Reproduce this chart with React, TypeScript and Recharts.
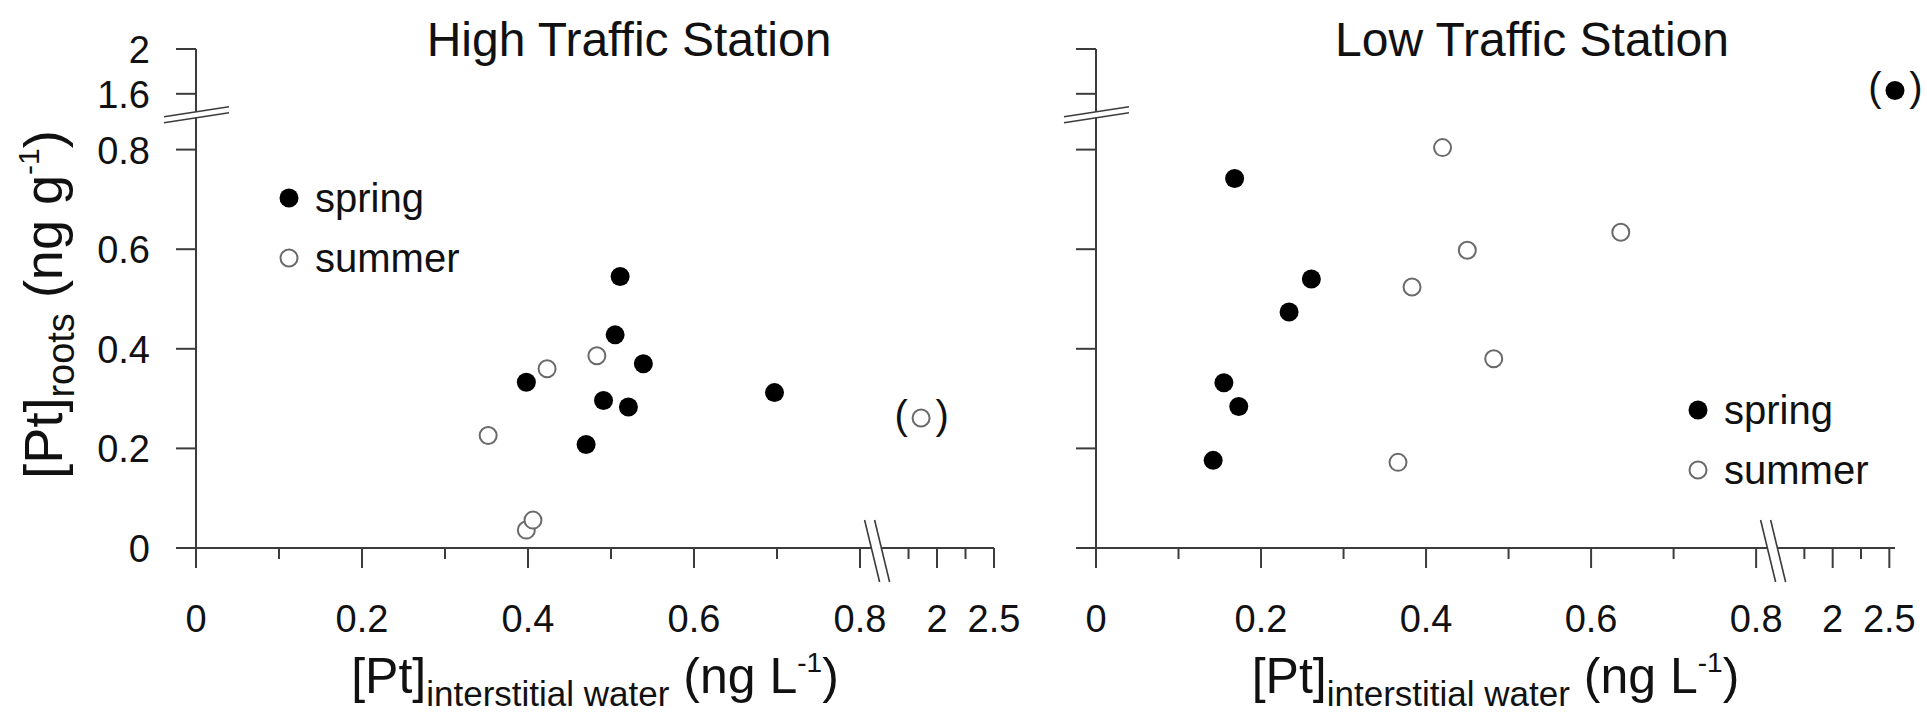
import React from "react";
import { ScatterChart, Scatter, XAxis, YAxis, Legend } from "recharts";

const FONT = "'Liberation Sans', Arial, Helvetica, sans-serif";
const INK = "#111";
const AXIS = "#3c3c3c";

// tick values in data units
const xMajor = [0, 0.2, 0.4, 0.6, 0.8, 2, 2.5];
const xMinor = [0.1, 0.3, 0.5, 0.7, 1.75, 2.25];
const yMajor = [0, 0.2, 0.4, 0.6, 0.8, 1.6, 2];

// High Traffic Station
const highSpringX = [0.398, 0.47, 0.491, 0.505, 0.511, 0.521, 0.539, 0.697];
const highSpringY = [0.333, 0.208, 0.296, 0.428, 0.545, 0.283, 0.37, 0.312];
const highSummerX = [0.352, 0.398, 0.406, 0.423, 0.483, 1.86];
const highSummerY = [0.226, 0.036, 0.056, 0.36, 0.386, 0.261];
const highSummerBracket = [false, false, false, false, false, true];

// Low Traffic Station
const lowSpringX = [0.142, 0.155, 0.168, 0.173, 0.234, 0.261, 2.55];
const lowSpringY = [0.176, 0.332, 0.742, 0.284, 0.474, 0.54, 1.63];
const lowSpringBracket = [false, false, false, false, false, false, true];
const lowSummerX = [0.366, 0.383, 0.42, 0.45, 0.482, 0.636];
const lowSummerY = [0.172, 0.524, 0.804, 0.598, 0.38, 0.634];

const seasons = [
  { name: "spring", fill: "#000", stroke: "#000", strokeWidth: 0, r: 9.5 },
  { name: "summer", fill: "#fff", stroke: "#6a6a6a", strokeWidth: 2, r: 8.5 },
];

// broken axes: lower part kept as is, upper part squeezed in after the break
const toX = (v: number) => (v <= 1 ? v : 0.8928 + (v - 2) * 0.1373);
const toY = (v: number) => (v <= 1 ? v : 0.912 + (v - 1.6) * 0.225);
const X_BREAK = 0.82;
const Y_BREAK = 0.87;

type TickDef = { d: number; label: string; kind: "major" | "minor" | "break" };

const xTickDefs: TickDef[] = [
  ...xMajor.map((v) => ({ d: toX(v), label: String(v), kind: "major" as const })),
  ...xMinor.map((v) => ({ d: toX(v), label: "", kind: "minor" as const })),
  { d: X_BREAK, label: "", kind: "break" as const },
].sort((a, b) => a.d - b.d);

const yTickDefs: TickDef[] = [
  ...yMajor.map((v) => ({ d: toY(v), label: String(v), kind: "major" as const })),
  { d: Y_BREAK, label: "", kind: "break" as const },
].sort((a, b) => a.d - b.d);

function findTick(defs: TickDef[], value: number) {
  let best = defs[0];
  for (const t of defs) if (Math.abs(t.d - value) < Math.abs(best.d - value)) best = t;
  return best;
}

function toPoints(xs: number[], ys: number[], bracket?: boolean[]) {
  return xs.map((x, i) => ({ x: toX(x), y: toY(ys[i]), bracket: bracket ? bracket[i] : false }));
}

function XTick(props: any) {
  const { x, y, payload } = props;
  const t = findTick(xTickDefs, payload.value);
  if (t.kind === "break") {
    return (
      <g>
        <polygon points={`${x - 12},${y - 28} ${x - 2},${y - 28} ${x + 13},${y + 34} ${x + 3},${y + 34}`} fill="#fff" />
        <line x1={x - 12} y1={y - 28} x2={x + 3} y2={y + 34} stroke={AXIS} strokeWidth={1.6} />
        <line x1={x - 2} y1={y - 28} x2={x + 13} y2={y + 34} stroke={AXIS} strokeWidth={1.6} />
      </g>
    );
  }
  const len = t.kind === "major" ? 20 : 11;
  return (
    <g>
      <line x1={x} y1={y} x2={x} y2={y + len} stroke={AXIS} strokeWidth={2} />
      {t.label && (
        <text x={x} y={y + 84} textAnchor="middle" fontSize={38} fontFamily={FONT} fill={INK}>
          {t.label}
        </text>
      )}
    </g>
  );
}

function YTick(props: any) {
  const { x, y, payload, showLabel } = props;
  const t = findTick(yTickDefs, payload.value);
  if (t.kind === "break") {
    return (
      <g>
        <polygon points={`${x - 32},${y + 2} ${x + 33},${y - 8} ${x + 33},${y - 2} ${x - 32},${y + 8}`} fill="#fff" />
        <line x1={x - 32} y1={y + 2} x2={x + 33} y2={y - 8} stroke={AXIS} strokeWidth={1.6} />
        <line x1={x - 32} y1={y + 8} x2={x + 33} y2={y - 2} stroke={AXIS} strokeWidth={1.6} />
      </g>
    );
  }
  return (
    <g>
      <line x1={x - 20} y1={y} x2={x} y2={y} stroke={AXIS} strokeWidth={2} />
      {showLabel && (
        <text x={x - 46} y={y + 14} textAnchor="end" fontSize={38} fontFamily={FONT} fill={INK}>
          {t.label}
        </text>
      )}
    </g>
  );
}

function makeShape(season: (typeof seasons)[number]) {
  return (p: any) => {
    const { cx, cy, payload } = p;
    return (
      <g>
        <circle cx={cx} cy={cy} r={season.r} fill={season.fill} stroke={season.stroke} strokeWidth={season.strokeWidth} />
        {payload.bracket && (
          <g fontSize={40} fontFamily={FONT} fill={INK} textAnchor="middle">
            <text x={cx - 20} y={cy + 11}>(</text>
            <text x={cx + 21} y={cy + 11}>)</text>
          </g>
        )}
      </g>
    );
  };
}

function XLabel(props: any) {
  const { viewBox } = props;
  const cx = viewBox.x + viewBox.width / 2;
  return (
    <text x={cx} y={693} textAnchor="middle" fontFamily={FONT} fill={INK} fontSize={50}>
      <tspan>[Pt]</tspan>
      <tspan fontSize={35} dy={13}>interstitial water</tspan>
      <tspan dy={-13}>{" (ng L"}</tspan>
      <tspan fontSize={28} dy={-21}>-1</tspan>
      <tspan dy={21}>)</tspan>
    </text>
  );
}

function YLabel(props: any) {
  const { viewBox } = props;
  const cx = viewBox.x + 62;
  const cy = viewBox.y + viewBox.height / 2 + 6;
  return (
    <text x={cx} y={cy} transform={`rotate(-90 ${cx} ${cy})`} textAnchor="middle" fontFamily={FONT} fill={INK} fontSize={54}>
      <tspan>[Pt]</tspan>
      <tspan fontSize={38} dy={12}>roots</tspan>
      <tspan dy={-12}>{" (ng g"}</tspan>
      <tspan fontSize={30} dy={-23}>-1</tspan>
      <tspan dy={23}>)</tspan>
    </text>
  );
}

function SeasonLegend({ payload }: any) {
  return (
    <div style={{ fontFamily: FONT, fontSize: 40, color: INK }}>
      {(payload || []).map((e: any) => {
        const s = seasons.find((q) => q.name === e.value) || seasons[0];
        return (
          <div key={e.value} style={{ display: "flex", alignItems: "center", height: 60 }}>
            <svg width={20} height={20}>
              <circle cx={10} cy={10} r={s.r} fill={s.fill} stroke={s.stroke} strokeWidth={s.strokeWidth} />
            </svg>
            <span style={{ marginLeft: 16, lineHeight: 1 }}>{e.value}</span>
          </div>
        );
      })}
    </div>
  );
}

type PanelProps = {
  spring: { x: number; y: number; bracket: boolean }[];
  summer: { x: number; y: number; bracket: boolean }[];
  width: number;
  yAxisWidth: number;
  right: number;
  showYLabels: boolean;
  legendPos: { left: number; top: number };
};

function Panel({ spring, summer, width, yAxisWidth, right, showYLabels, legendPos }: PanelProps) {
  return (
    <ScatterChart width={width} height={712} margin={{ top: 49, right, bottom: 0, left: 0 }}>
      <XAxis
        type="number"
        dataKey="x"
        domain={[0, toX(2.5)]}
        ticks={xTickDefs.map((t) => t.d)}
        interval={0}
        height={164}
        tickSize={0}
        tickMargin={0}
        tickLine={false}
        axisLine={{ stroke: AXIS, strokeWidth: 2 }}
        tick={(p: any) => <XTick {...p} />}
        label={{ content: (p: any) => <XLabel {...p} /> }}
      />
      <YAxis
        type="number"
        dataKey="y"
        domain={[0, toY(2)]}
        ticks={yTickDefs.map((t) => t.d)}
        interval={0}
        width={yAxisWidth}
        tickSize={0}
        tickMargin={0}
        tickLine={false}
        axisLine={{ stroke: AXIS, strokeWidth: 2 }}
        tick={(p: any) => <YTick {...p} showLabel={showYLabels} />}
        label={showYLabels ? { content: (p: any) => <YLabel {...p} /> } : undefined}
      />
      <Legend
        layout="vertical"
        align="center"
        verticalAlign="middle"
        content={(p: any) => <SeasonLegend {...p} />}
        wrapperStyle={{ left: legendPos.left, top: legendPos.top, width: 260, height: 120 }}
      />
      <Scatter name="spring" data={spring} shape={makeShape(seasons[0])} isAnimationActive={false} />
      <Scatter name="summer" data={summer} shape={makeShape(seasons[1])} isAnimationActive={false} />
    </ScatterChart>
  );
}

const titleStyle: React.CSSProperties = {
  position: "absolute",
  top: 16,
  transform: "translateX(-50%)",
  whiteSpace: "nowrap",
  fontFamily: FONT,
  fontSize: 48,
  lineHeight: 1,
  color: INK,
};

export default function App() {
  return (
    <div style={{ position: "absolute", left: 0, top: 0, width: 1927, height: 712, background: "#fff", overflow: "hidden" }}>
      <div style={{ position: "absolute", left: 0, top: 0 }}>
        <Panel
          spring={toPoints(highSpringX, highSpringY)}
          summer={toPoints(highSummerX, highSummerY, highSummerBracket)}
          width={1030}
          yAxisWidth={196}
          right={36}
          showYLabels={true}
          legendPos={{ left: 279, top: 168 }}
        />
      </div>
      <div style={{ position: "absolute", left: 1030, top: 0 }}>
        <Panel
          spring={toPoints(lowSpringX, lowSpringY, lowSpringBracket)}
          summer={toPoints(lowSummerX, lowSummerY)}
          width={897}
          yAxisWidth={66}
          right={32}
          showYLabels={false}
          legendPos={{ left: 658, top: 380 }}
        />
      </div>
      <div style={{ ...titleStyle, left: 629 }}>High Traffic Station</div>
      <div style={{ ...titleStyle, left: 1532 }}>Low Traffic Station</div>
    </div>
  );
}
